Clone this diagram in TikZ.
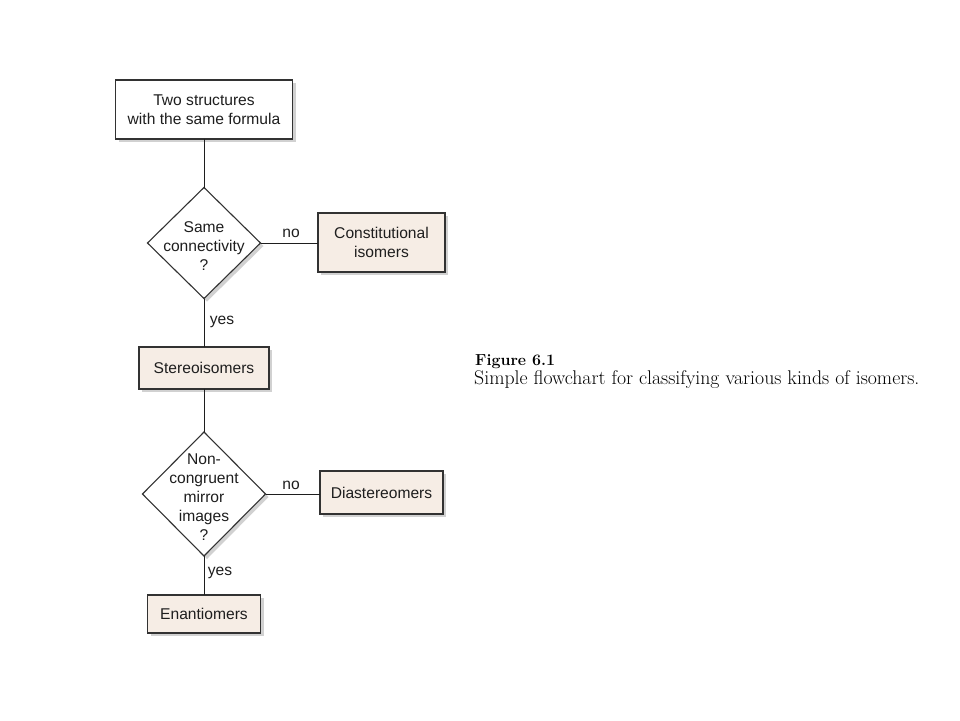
\documentclass[tikz,border=0pt]{standalone}
\usepackage{fontspec}
\newfontfamily\hv{Liberation Sans}
\usetikzlibrary{shapes.geometric,shadows}
\definecolor{beige}{RGB}{246,237,229}
\definecolor{ink}{RGB}{30,30,30}
\definecolor{edge}{RGB}{50,50,50}
\begin{document}
\begin{tikzpicture}[x=1pt,y=-1pt,
  every node/.style={text=ink, font=\hv\fontsize{15.6}{19}\selectfont},
  shad/.style={drop shadow={shadow xshift=3pt, shadow yshift=-3pt, fill=gray!45, opacity=0.8}},
  whitebox/.style={draw=edge, line width=1.1pt, fill=white, inner sep=0pt, outer sep=0pt, align=center, shad},
  tanbox/.style={whitebox, fill=beige},
  dia/.style={diamond, draw=edge, line width=1.1pt, fill=white, inner sep=0pt, outer sep=0pt, shad},
  diatext/.style={align=center, inner sep=0pt},
  lab/.style={inner sep=0pt},
  conn/.style={draw=ink, line width=1pt},
  captext/.style={anchor=base west, inner sep=0pt, text=black}
]
\useasboundingbox (0,0) rectangle (960,720);
\fill[white] (0,0) rectangle (960,720);

\node[whitebox, minimum width=177pt, minimum height=59pt] (top) at (204,109.5) {Two structures\\with the same formula};
\node[dia, minimum width=113pt, minimum height=111pt] (d1) at (204,243) {};
\node[diatext] (d1t) at (204,246) {Same\\connectivity\\?};
\node[tanbox, minimum width=127pt, minimum height=59pt] (cons) at (381.5,242.5) {Constitutional\\isomers};
\node[tanbox, minimum width=130pt, minimum height=42pt] (stereo) at (204,368) {Stereoisomers};
\node[dia, minimum width=123pt, minimum height=124pt] (d2) at (204,494) {};
\node[diatext] (d2t) at (204,497) {Non-\\congruent\\mirror\\images\\?};
\node[tanbox, minimum width=123pt, minimum height=43pt] (diast) at (381.5,492.5) {Diastereomers};
\node[tanbox, minimum width=113pt, minimum height=38pt] (enan) at (204,614) {Enantiomers};

\draw[conn] (top.south) -- (d1.north);
\draw[conn] (d1.east) -- (d1.east -| cons.west);
\draw[conn] (d1.south) -- (stereo.north);
\draw[conn] (stereo.south) -- (d2.north);
\draw[conn] (d2.east) -- (d2.east -| diast.west);
\draw[conn] (d2.south) -- (enan.north);

\node[lab] (no1) at (291,233) {no};
\node[lab] (yes1) at (222,322) {yes};
\node[lab] (no2) at (291,485) {no};
\node[lab] (yes2) at (220,573) {yes};

\node[captext, font=\fontsize{16}{20}\selectfont\bfseries] (fig) at (475,365) {Figure 6.1};
\node[captext, font=\fontsize{19.8}{22}\selectfont] (capt) at (474,384) {Simple flowchart for classifying various kinds of isomers.};
\end{tikzpicture}
\end{document}
